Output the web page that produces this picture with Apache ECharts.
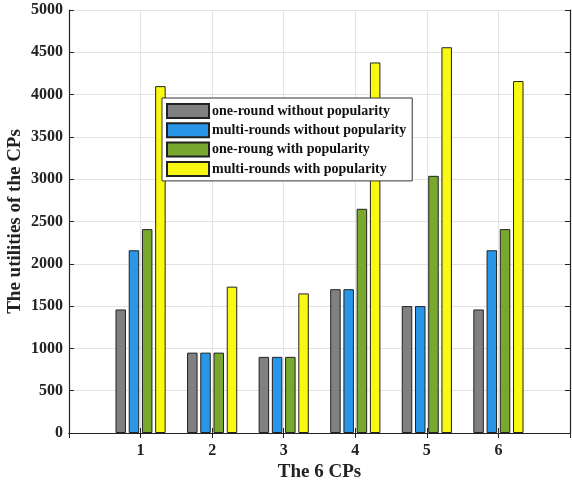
<!DOCTYPE html>
<html>
<head>
<meta charset="utf-8">
<script src="https://cdn.jsdelivr.net/npm/echarts@6/dist/echarts.min.js"></script>
<style>html,body{margin:0;padding:0;background:#fff;}#c{width:572px;height:483px;}</style>
</head>
<body>
<div id="c"></div>
<script>
var categories = ['1', '2', '3', '4', '5', '6'];
var seriesNames = ['one-round without popularity', 'multi-rounds without popularity', 'one-roung with popularity', 'multi-rounds with popularity'];
var oneRoundNoPop = [1460, 950, 900, 1700, 1500, 1460];
var multiRoundsNoPop = [2160, 950, 900, 1700, 1500, 2160];
var oneRoundPop = [2410, 950, 900, 2650, 3040, 2410];
var multiRoundsPop = [4100, 1730, 1650, 4380, 4560, 4160];
var yTicks = [0, 500, 1000, 1500, 2000, 2500, 3000, 3500, 4000, 4500, 5000];

var colors = ['#808080', '#2a96e8', '#78a82e', '#f8f812'];
var values = [oneRoundNoPop, multiRoundsNoPop, oneRoundPop, multiRoundsPop];

// pad with empty slots so the axis runs from 0 to 7
var axisData = [''].concat(categories).concat(['']);
function pad(arr) { return ['-'].concat(arr).concat(['-']); }

var font = 'Liberation Serif';
var chart = echarts.init(document.getElementById('c'));
chart.setOption({
  animation: false,
  backgroundColor: '#fff',
  grid: { left: 69, right: 2, top: 10, bottom: 50, containLabel: false, outerBoundsMode: 'none' },
  legend: {
    orient: 'vertical',
    left: 162, top: 98,
    itemWidth: 42, itemHeight: 14, itemGap: 3.3,
    padding: [5, 6, 4, 4],
    backgroundColor: '#fff',
    borderColor: '#333', borderWidth: 1,
    borderRadius: 0,
    textStyle: { fontFamily: font, fontWeight: 'bold', fontSize: 14, lineHeight: 14, color: '#111', padding: [0, 0, 0, -2] },
    data: seriesNames.map(function (n) { return { name: n, icon: 'rect' }; })
  },
  xAxis: [{
    type: 'category',
    data: axisData,
    boundaryGap: false,
    name: 'The 6 CPs',
    nameLocation: 'middle',
    nameGap: 30,
    nameMoveOverlap: false,
    nameTextStyle: { fontFamily: font, fontWeight: 'bold', fontSize: 19, color: '#222' },
    axisLine: { lineStyle: { color: '#222', width: 1.2 } },
    axisTick: { inside: true, length: 5, interval: 0, lineStyle: { color: '#222' } },
    axisLabel: { interval: 0, fontFamily: font, fontWeight: 'bold', fontSize: 16, color: '#222', margin: 10 },
    splitLine: { show: true, interval: 0, lineStyle: { color: '#e3e3e3', width: 1 } }
  }, {
    type: 'category',
    data: axisData,
    boundaryGap: false,
    position: 'top',
    axisLine: { lineStyle: { color: '#222', width: 1.2 } },
    axisTick: { inside: true, length: 5, interval: 0, lineStyle: { color: '#222' } },
    axisLabel: { show: false },
    splitLine: { show: false }
  }],
  yAxis: [{
    type: 'value',
    min: yTicks[0], max: yTicks[yTicks.length - 1], interval: 500,
    name: 'The utilities of the CPs',
    nameLocation: 'middle',
    nameGap: 44,
    nameMoveOverlap: false,
    nameTextStyle: { fontFamily: font, fontWeight: 'bold', fontSize: 19, color: '#222' },
    axisLine: { show: true, lineStyle: { color: '#222', width: 1.2 } },
    axisTick: { show: true, inside: true, length: 5, lineStyle: { color: '#222' } },
    axisLabel: { fontFamily: font, fontWeight: 'bold', fontSize: 16, color: '#222', margin: 6,
      formatter: function (v) { return String(v); } },
    splitLine: { show: true, lineStyle: { color: '#e3e3e3', width: 1 } }
  }, {
    type: 'value',
    position: 'right',
    min: yTicks[0], max: yTicks[yTicks.length - 1], interval: 500,
    axisLine: { show: true, lineStyle: { color: '#222', width: 1.2 } },
    axisTick: { show: true, inside: true, length: 5, lineStyle: { color: '#222' } },
    axisLabel: { show: false },
    splitLine: { show: false }
  }],
  series: values.map(function (v, i) {
    return {
      name: seriesNames[i],
      type: 'bar',
      xAxisIndex: 0, yAxisIndex: 0,
      data: pad(v),
      barWidth: 10.5,
      barGap: '26%',
      itemStyle: { color: colors[i], borderColor: '#222', borderWidth: 1 }
    };
  })
});
</script>
</body>
</html>
